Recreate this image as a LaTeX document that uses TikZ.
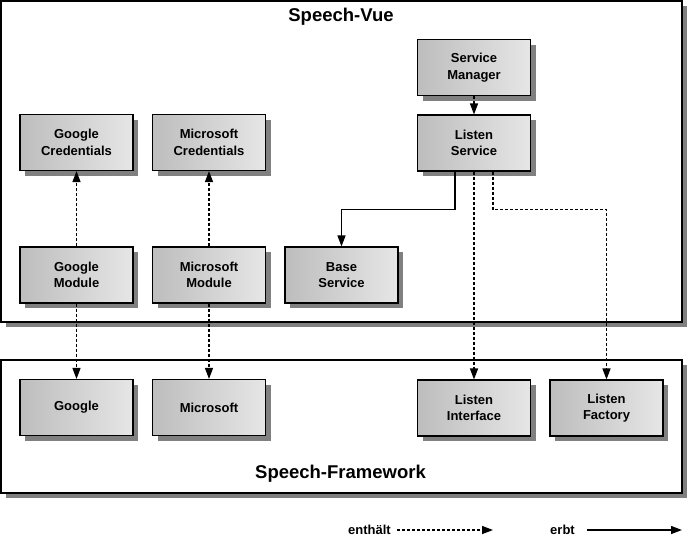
\documentclass[tikz,border=0pt]{standalone}
\usepackage{fontspec}
\setmainfont{Liberation Sans}
\usetikzlibrary{arrows.meta,shadows}
\definecolor{shadowgray}{HTML}{808080}
\definecolor{boxleft}{HTML}{BDBDBD}
\definecolor{boxright}{HTML}{E6E6E6}
\tikzset{
  module/.style={draw=black, line width=1.1pt, left color=boxleft, right color=boxright,
    minimum width=113pt, minimum height=56pt, inner sep=0pt, align=center,
    font=\fontsize{13}{16.5}\selectfont\bfseries,
    general shadow={fill=shadowgray, shadow xshift=5pt, shadow yshift=-5pt}},
  package/.style={draw=black, line width=1.2pt, fill=white,
    general shadow={fill=shadowgray, shadow xshift=5pt, shadow yshift=-5pt}},
  title/.style={font=\fontsize{18.5}{22}\selectfont\bfseries, inner sep=0pt},
  legendtext/.style={font=\fontsize{13}{15}\selectfont\bfseries, inner sep=0pt},
  contains/.style={line width=1.3pt, dash pattern=on 3pt off 2pt, -{Triangle[length=11pt,width=8pt]}},
  inherits/.style={line width=1.3pt, -{Triangle[length=11pt,width=8pt]}},
}
\begin{document}
\begin{tikzpicture}[x=1pt,y=-1pt]
\useasboundingbox (0,0) rectangle (689,539);
% packages
\path[package] (1,1) rectangle (682,322);
\path[package] (1,360) rectangle (682,493);
\node[title] (vue) at (341,17) {Speech-Vue};
\node[title] (fw) at (340.5,474) {Speech-Framework};
% modules in Speech-Vue
\node[module] (gc) at (76.5,142.5) {Google\\Credentials};
\node[module] (mc) at (209,142.5) {Microsoft\\Credentials};
\node[module] (sm) at (474,67.5) {Service\\Manager};
\node[module] (ls) at (474,143) {Listen\\Service};
\node[module] (gm) at (76.5,275) {Google\\Module};
\node[module] (mm) at (209,275) {Microsoft\\Module};
\node[module] (bs) at (341.5,275) {Base\\Service};
% modules in Speech-Framework
\node[module] (g) at (76.5,407.5) {Google};
\node[module] (m) at (209,407.5) {Microsoft};
\node[module] (li) at (474,408) {Listen\\Interface};
\node[module] (lf) at (606.5,408) {Listen\\Factory};
% connectors
\draw[contains] (gm.north) -- (gc.south);
\draw[contains] (mm.north) -- (mc.south);
\draw[contains] (gm.south) -- (g.north);
\draw[contains] (mm.south) -- (m.north);
\draw[contains] (sm.south) -- (ls.north);
\draw[inherits] ([xshift=-19pt]ls.south) -- ++(0,38) -| (bs.north);
\draw[contains] (ls.south) -- (li.north);
\draw[contains] ([xshift=19pt]ls.south) -- ++(0,38) -| (lf.north);
% legend
\node[legendtext, anchor=east] (enth) at (391,530) {enthält};
\node[legendtext, anchor=east] (erbt) at (575,530) {erbt};
\coordinate (enthend) at (493,530);
\coordinate (erbtend) at (682,530);
\draw[contains] ([xshift=6pt]enth.east) -- (enthend);
\draw[inherits] ([xshift=12pt]erbt.east) -- (erbtend);
\end{tikzpicture}
\end{document}
